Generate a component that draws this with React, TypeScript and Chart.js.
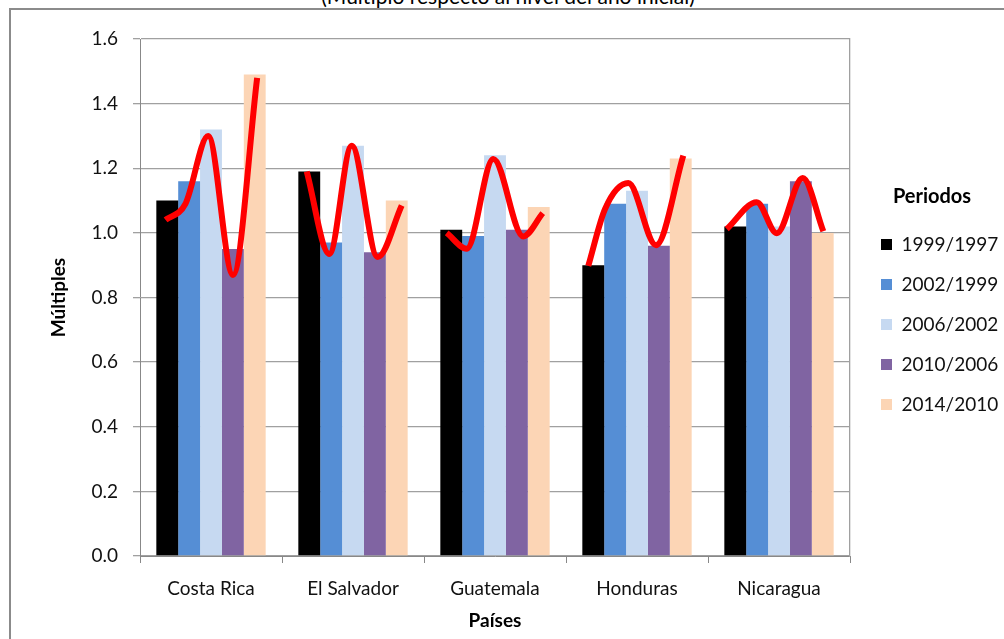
import React, { useEffect, useRef } from 'react';
import { Chart, registerables } from 'chart.js';

Chart.register(...registerables);

const chartTitle = '(Múltiplo respecto al nivel del año inicial)';
const countries = ['Costa Rica', 'El Salvador', 'Guatemala', 'Honduras', 'Nicaragua'];
const periods = ['1999/1997', '2002/1999', '2006/2002', '2010/2006', '2014/2010'];
const v1999_1997 = [1.10, 1.19, 1.01, 0.90, 1.02];
const v2002_1999 = [1.16, 0.97, 0.99, 1.09, 1.09];
const v2006_2002 = [1.32, 1.27, 1.24, 1.13, 1.02];
const v2010_2006 = [0.95, 0.94, 1.01, 0.96, 1.16];
const v2014_2010 = [1.49, 1.10, 1.08, 1.23, 1.00];
const periodColors = ['#000000', '#558ED5', '#C6D9F1', '#8064A2', '#FCD5B5'];
const yTicks = [0, 0.2, 0.4, 0.6, 0.8, 1.0, 1.2, 1.4, 1.6];

// Hand-drawn red curves over each country group: offset from the group centre
// (in category widths) and value on the Múltiples scale.
const curveCostaRicaX = [-0.32, -0.18, -0.02, 0.155, 0.325];
const curveCostaRicaY = [1.04, 1.09, 1.30, 0.87, 1.48];
const curveElSalvadorX = [-0.326, -0.167, -0.009, 0.174, 0.343];
const curveElSalvadorY = [1.19, 0.935, 1.27, 0.925, 1.085];
const curveGuatemalaX = [-0.34, -0.199, -0.012, 0.199, 0.336];
const curveGuatemalaY = [1.0, 0.951, 1.229, 0.989, 1.061];
const curveHondurasX = [-0.343, -0.225, -0.061, 0.134, 0.326];
const curveHondurasY = [0.898, 1.074, 1.154, 0.962, 1.239];
const curveNicaraguaX = [-0.368, -0.157, -0.016, 0.167, 0.312];
const curveNicaraguaY = [1.012, 1.095, 0.999, 1.17, 1.005];

const FONT = 'Lato, "Open Sans", sans-serif';

export default function App() {
  const canvasRef = useRef<HTMLCanvasElement | null>(null);

  useEffect(() => {
    const canvas = canvasRef.current;
    if (!canvas) return;
    const seriesValues = [v1999_1997, v2002_1999, v2006_2002, v2010_2006, v2014_2010];
    const curvesX = [curveCostaRicaX, curveElSalvadorX, curveGuatemalaX, curveHondurasX, curveNicaraguaX];
    const curvesY = [curveCostaRicaY, curveElSalvadorY, curveGuatemalaY, curveHondurasY, curveNicaraguaY];

    const barSets: any[] = periods.map((p, i) => ({
      type: 'bar',
      label: p,
      data: seriesValues[i],
      backgroundColor: periodColors[i],
      borderWidth: 0,
      xAxisID: 'x',
      yAxisID: 'y',
      order: 2,
      categoryPercentage: 0.77,
      barPercentage: 1.0,
    }));
    // Curves share the category axis; category positions are fractional indices.
    const lineSets: any[] = countries.map((c, ci) => ({
      type: 'line',
      label: 'curve ' + c,
      parsing: false,
      data: curvesX[ci].map((dx, k) => ({ x: ci + dx, y: curvesY[ci][k] })),
      borderColor: '#FF0000',
      borderWidth: 6,
      pointRadius: 0,
      fill: false,
      cubicInterpolationMode: 'monotone',
      xAxisID: 'x',
      yAxisID: 'y',
      order: 0,
    }));

    const chart = new Chart(canvas, {
      type: 'bar',
      data: { labels: countries, datasets: [...barSets, ...lineSets] },
      options: {
        animation: false,
        responsive: false,
        devicePixelRatio: 1,
        layout: { padding: { top: 39, left: 0, right: 0, bottom: 0 } },
        plugins: {
          tooltip: { enabled: false },
          legend: {
            position: 'right',
            align: 'start',
            maxWidth: 144,
            title: {
              display: true,
              text: 'Periodos',
              color: '#000',
              font: { family: FONT, size: 20, weight: 'bold' },
              padding: { top: 148, bottom: 3 },
            },
            labels: {
              filter: (item: any) => item.datasetIndex < 5,
              boxWidth: 11,
              boxHeight: 11,
              padding: 21,
              color: '#111',
              font: { family: FONT, size: 19 },
            },
          },
        },
        scales: {
          x: {
            type: 'category',
            position: 'bottom',
            offset: true,
            grid: { offset: true, drawOnChartArea: false, drawTicks: true, tickLength: 7, color: '#888' },
            border: { color: '#888', width: 1 },
            ticks: { padding: 14, color: '#111', font: { family: FONT, size: 19 } },
            title: {
              display: true,
              text: 'Países',
              color: '#000',
              font: { family: FONT, size: 19, weight: 'bold' },
              padding: { top: 0, bottom: 7 },
            },
            afterFit: (s: any) => { s.height = 83; },
          },
          y: {
            min: 0,
            max: 1.6,
            afterBuildTicks: (s: any) => { s.ticks = yTicks.map((v) => ({ value: v })); },
            ticks: { padding: 15, color: '#111', font: { family: FONT, size: 19 }, callback: (v: any) => Number(v).toFixed(1) },
            grid: { color: '#A0A0A0', lineWidth: 1.3, tickLength: 7, drawTicks: true },
            border: { color: '#888', width: 1 },
            title: {
              display: true,
              text: 'Múltiples',
              color: '#000',
              font: { family: FONT, size: 19, weight: 'bold' },
              padding: { top: 47, bottom: 0 },
            },
            afterFit: (s: any) => { s.width = 140; },
          },
          y2: {
            position: 'right',
            min: 0,
            max: 1.6,
            grid: { display: false },
            ticks: { display: false },
            border: { display: true, color: '#A0A0A0', width: 1.3 },
            afterFit: (s: any) => { s.width = 10; },
          },
        },
      } as any,
    });
    return () => chart.destroy();
  }, []);

  return (
    <div style={{ position: 'fixed', left: 0, top: 0, width: 1004, height: 639, overflow: 'hidden', background: '#fff' }}>
      <div
        style={{
          position: 'absolute', left: 0, top: -15, width: 1016, textAlign: 'center',
          fontFamily: FONT, fontSize: 21, lineHeight: '21px', color: '#000', whiteSpace: 'nowrap',
        }}
      >
        {chartTitle}
      </div>
      <div
        style={{
          position: 'absolute', left: 9, top: 8, width: 1010, height: 660,
          borderTop: '2px solid #8B8B8B', borderLeft: '2px solid #8B8B8B',
        }}
      />
      <canvas ref={canvasRef} width={1004} height={639} style={{ position: 'absolute', left: 0, top: 0, width: 1004, height: 639 }} />
    </div>
  );
}
